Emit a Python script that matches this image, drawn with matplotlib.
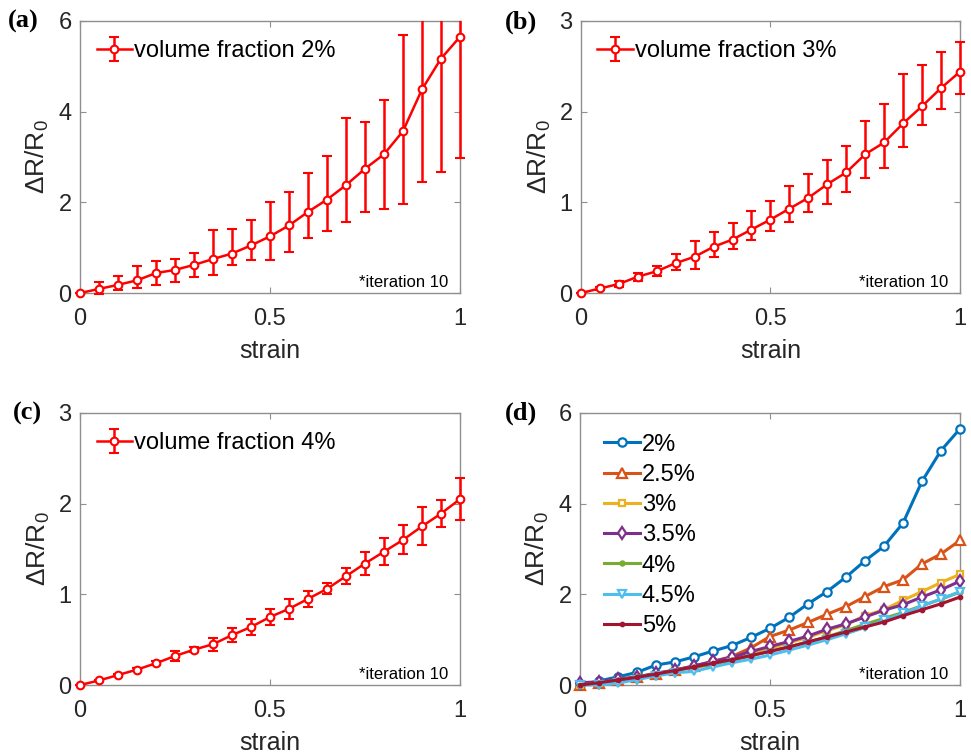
import numpy as np
import matplotlib
matplotlib.use('Agg')
import matplotlib.pyplot as plt
from matplotlib.transforms import Bbox, TransformedBbox

plt.rcParams['font.family'] = ['Liberation Sans', 'DejaVu Sans']
plt.rcParams['mathtext.fontset'] = 'custom'
plt.rcParams['mathtext.rm'] = 'Liberation Sans'
plt.rcParams['mathtext.it'] = 'Liberation Sans'

# strain steps
strain = np.array([0, 0.05, 0.1, 0.15, 0.2, 0.25, 0.3, 0.35, 0.4, 0.45, 0.5,
                   0.55, 0.6, 0.65, 0.7, 0.75, 0.8, 0.85, 0.9, 0.95, 1.0])

# volume fraction 2%
vf2 = np.array([0, 0.09, 0.18, 0.28, 0.44, 0.51, 0.62, 0.75, 0.87, 1.05, 1.25,
                1.49, 1.79, 2.06, 2.38, 2.74, 3.06, 3.57, 4.49, 5.17, 5.65])
vf2_lo = np.array([0, 0.12, 0.12, 0.16, 0.26, 0.26, 0.27, 0.35, 0.26, 0.33, 0.53,
                   0.59, 0.58, 0.69, 0.82, 0.96, 1.21, 1.60, 2.04, 2.49, 2.67])
vf2_hi = np.array([0, 0.16, 0.2, 0.31, 0.27, 0.23, 0.26, 0.64, 0.55, 0.57, 0.75,
                   0.73, 0.85, 0.97, 1.47, 1.04, 1.20, 2.13, 2.04, 2.49, 2.67])

# volume fraction 3%
vf3 = np.array([0, 0.05, 0.10, 0.18, 0.24, 0.33, 0.40, 0.51, 0.59, 0.70, 0.81,
                0.93, 1.05, 1.20, 1.33, 1.53, 1.66, 1.87, 2.06, 2.26, 2.44])
vf3_lo = np.array([0, 0.02, 0.03, 0.045, 0.055, 0.08, 0.14, 0.11, 0.10, 0.12, 0.13,
                   0.15, 0.16, 0.22, 0.22, 0.26, 0.28, 0.26, 0.21, 0.23, 0.24])
vf3_hi = np.array([0, 0.02, 0.03, 0.045, 0.055, 0.10, 0.17, 0.16, 0.18, 0.21, 0.20,
                   0.25, 0.26, 0.27, 0.29, 0.37, 0.42, 0.55, 0.46, 0.40, 0.33])

# volume fraction 4%
vf4 = np.array([0, 0.05, 0.11, 0.17, 0.24, 0.32, 0.39, 0.45, 0.55, 0.64, 0.75,
                0.84, 0.95, 1.06, 1.20, 1.34, 1.47, 1.60, 1.75, 1.89, 2.05])
vf4_err = np.array([0, 0.01, 0.015, 0.02, 0.02, 0.05, 0.03, 0.07, 0.08, 0.09, 0.09,
                    0.11, 0.09, 0.06, 0.09, 0.13, 0.15, 0.16, 0.21, 0.15, 0.23])

# other fractions (panel d)
vf25 = np.array([0, 0.05, 0.10, 0.17, 0.25, 0.33, 0.42, 0.52, 0.63, 0.82, 1.07,
                 1.21, 1.38, 1.56, 1.73, 1.95, 2.17, 2.32, 2.67, 2.89, 3.19])
vf35 = np.array([0.05, 0.07, 0.13, 0.18, 0.26, 0.33, 0.42, 0.52, 0.61, 0.74, 0.85,
                 0.96, 1.08, 1.23, 1.35, 1.50, 1.65, 1.77, 1.94, 2.10, 2.29])
vf45 = np.array([0, 0.0, 0.04, 0.12, 0.2, 0.27, 0.3, 0.4, 0.49, 0.57, 0.66,
                 0.77, 0.88, 1.0, 1.13, 1.27, 1.43, 1.58, 1.74, 1.90, 2.06])
vf5 = np.array([0, 0.05, 0.11, 0.17, 0.24, 0.32, 0.40, 0.48, 0.56, 0.65, 0.74,
                0.84, 0.95, 1.06, 1.17, 1.28, 1.39, 1.53, 1.66, 1.79, 1.94])

fig = plt.figure(figsize=(9.71, 7.55), dpi=100)

axc = '#8f8f8f'
txtc = '#262626'


def style_axes(ax, ymax, yticks):
    ax.set_xlim(0, 1)
    ax.set_ylim(0, ymax)
    ax.set_xticks([0, 0.5, 1])
    ax.set_xticklabels(['0', '0.5', '1'])
    ax.set_yticks(yticks)
    ax.set_yticklabels([str(t) for t in yticks])
    ax.tick_params(direction='in', length=4, width=0.8, colors=axc,
                   labelcolor=txtc, labelsize=17, top=True, right=True)
    ax.tick_params(axis='x', pad=11)
    ax.tick_params(axis='y', pad=6)
    for s in ax.spines.values():
        s.set_color(axc)
        s.set_linewidth(1)
    ax.set_xlabel('strain', fontsize=18, color=txtc, labelpad=6)
    ax.set_ylabel(r'$\Delta$R/R$_0$', fontsize=19, color=txtc, labelpad=5)
    ax.text(0.97, 0.012, '*iteration 10', transform=ax.transAxes, ha='right',
            va='bottom', fontsize=12, color='black')


def err_panel(ax, y, lo, hi, label, ymax, yticks):
    eb = ax.errorbar(strain, y, yerr=[lo, hi], color='red', lw=1.8, marker='o',
                     ms=5.5, mfc='white', mec='red', mew=1.5, capsize=3.5,
                     capthick=1.8, elinewidth=1.8, label=label, zorder=3)
    # let caps at the edges show, but keep the top limit
    box = TransformedBbox(Bbox([[-0.05, -0.05], [1.05, 1.0]]), ax.transAxes)
    for art in [eb[0]] + list(eb[1]) + list(eb[2]):
        art.set_clip_box(box)
        art.set_zorder(3)
    eb[0].set_zorder(4)
    style_axes(ax, ymax, yticks)
    ax.legend(loc='upper left', frameon=False, fontsize=17, handlelength=1.5,
              handletextpad=0.1, borderaxespad=0.3, bbox_to_anchor=(0.0, 0.99))


axa = fig.add_axes([0.0824, 0.6119, 0.3913, 0.3603])
err_panel(axa, vf2, vf2_lo, vf2_hi, 'volume fraction 2%', 6, [0, 2, 4, 6])

axb = fig.add_axes([0.5983, 0.6119, 0.3903, 0.3603])
err_panel(axb, vf3, vf3_lo, vf3_hi, 'volume fraction 3%', 3, [0, 1, 2, 3])

axc_ = fig.add_axes([0.0824, 0.0927, 0.3913, 0.3603])
err_panel(axc_, vf4, vf4_err, vf4_err, 'volume fraction 4%', 3, [0, 1, 2, 3])

axd = fig.add_axes([0.5973, 0.0927, 0.3913, 0.3603])
series = [(vf2, '2%', '#0072BD', 'o', 6),
          (vf25, '2.5%', '#D95319', '^', 7),
          (vf3, '3%', '#EDB120', 's', 5),
          (vf35, '3.5%', '#7E2F8E', 'd', 6),
          (vf4, '4%', '#77AC30', '.', 6),
          (vf45, '4.5%', '#4DBEEE', 'v', 6),
          (vf5, '5%', '#A2142F', '.', 5)]
for y, lab, col, mk, ms in series:
    mfc = col if mk == '.' else 'white'
    ln, = axd.plot(strain, y, color=col, lw=2.2, marker=mk, ms=ms, mfc=mfc,
                   mec=col, mew=1.6, label=lab, zorder=3)
    ln.set_clip_on(False)
style_axes(axd, 6, [0, 2, 4, 6])
axd.legend(loc='upper left', frameon=False, fontsize=17, handlelength=1.5,
           handletextpad=0.1, labelspacing=0.35, borderaxespad=0.3,
           bbox_to_anchor=(0.02, 0.985))

# panel letters
for x, y, t in [(0.008, 0.971, '(a)'), (0.52, 0.971, '(b)'),
                (0.013, 0.453, '(c)'), (0.52, 0.453, '(d)')]:
    fig.text(x, y, t, fontsize=19, fontweight='bold', va='center',
             family='Liberation Serif')

fig.savefig('out.png', dpi=100)
